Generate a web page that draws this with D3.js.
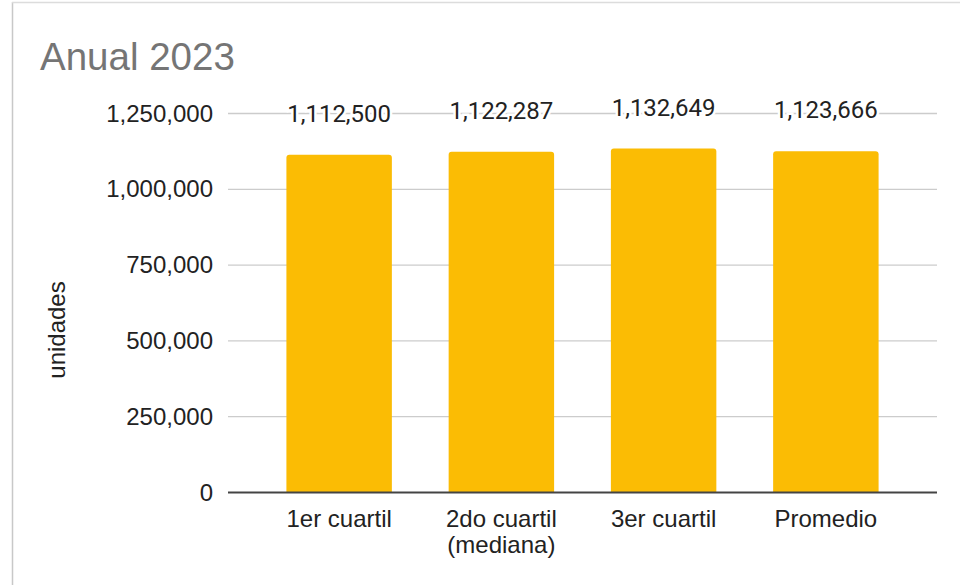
<!DOCTYPE html>
<html><head><meta charset="utf-8">
<script src="https://cdn.jsdelivr.net/npm/d3@7"></script>
<style>body{margin:0;background:#fff;}svg{display:block;}</style>
</head><body>
<svg id="c" width="960" height="585"></svg>
<script>
const categories = [["1er cuartil"], ["2do cuartil", "(mediana)"], ["3er cuartil"], ["Promedio"]];
const values = [1112500, 1122287, 1132649, 1123666];
const valueLabels = ["1,112,500", "1,122,287", "1,132,649", "1,123,666"];
const yTicks = [0, 250000, 500000, 750000, 1000000, 1250000];

const svg = d3.select("#c");
// frame
svg.append("line").attr("x1",12.5).attr("x2",12.5).attr("y1",2).attr("y2",585).attr("stroke","#c8c8c8").attr("stroke-width",1.5);
svg.append("line").attr("x1",12).attr("x2",960).attr("y1",2.5).attr("y2",2.5).attr("stroke","#dcdcdc").attr("stroke-width",1.5);

const x0 = 228, x1 = 937, yBase = 492, yTop = 113;
const x = d3.scaleBand().domain(d3.range(values.length)).range([x0, x1]).paddingInner(0.35).paddingOuter(0.36);
const y = d3.scaleLinear().domain([0, 1250000]).range([yBase, yTop]);

// title
svg.append("text").attr("x",40).attr("y",70).text("Anual 2023")
  .attr("font-family","Liberation Sans, Arial, sans-serif").attr("font-size",38.5).attr("fill","#757575");

// gridlines
svg.append("g").selectAll("line").data(yTicks.filter(d=>d>0)).join("line")
  .attr("x1",x0).attr("x2",x1).attr("y1",d=>y(d)+0.5).attr("y2",d=>y(d)+0.5)
  .attr("stroke","#cccccc").attr("stroke-width",1.3);

// y tick labels
const fmt = d3.format(",");
svg.append("g").selectAll("text").data(yTicks).join("text")
  .attr("x",213).attr("y",d=>y(d)).attr("dy","0.36em").attr("text-anchor","end")
  .attr("font-family","Liberation Sans, Arial, sans-serif").attr("font-size",24).attr("fill","#222")
  .text(d=>fmt(d));

// y axis title
svg.append("text").attr("transform","translate(65,330) rotate(-90)").attr("text-anchor","middle")
  .attr("font-family","Liberation Sans, Arial, sans-serif").attr("font-size",24).attr("fill","#222")
  .text("unidades");

// bars
svg.append("g").selectAll("path").data(values).join("path")
  .attr("d",(d,i)=>{
    const bx = x(i), bw = x.bandwidth(), by = y(d), r = 3;
    return `M${bx},${yBase}V${by+r}Q${bx},${by} ${bx+r},${by}H${bx+bw-r}Q${bx+bw},${by} ${bx+bw},${by+r}V${yBase}Z`;
  })
  .attr("fill","#FBBC04");

// baseline
svg.append("line").attr("x1",x0).attr("x2",x1).attr("y1",yBase+0.5).attr("y2",yBase+0.5)
  .attr("stroke","#444").attr("stroke-width",2);

// value labels
svg.append("g").selectAll("text").data(values).join("text")
  .attr("x",(d,i)=>x(i)+x.bandwidth()/2).attr("y",d=>y(d)-33)
  .attr("text-anchor","middle")
  .attr("font-family","Roboto, sans-serif").attr("font-size",24).attr("fill","#222")
  .attr("stroke","#fff").attr("stroke-width",5).attr("paint-order","stroke")
  .text((d,i)=>valueLabels[i]);

// category labels
const cat = svg.append("g").selectAll("text").data(categories).join("text")
  .attr("x",(d,i)=>x(i)+x.bandwidth()/2).attr("y",527).attr("text-anchor","middle")
  .attr("font-family","Liberation Sans, Arial, sans-serif").attr("font-size",24).attr("fill","#222");
cat.selectAll("tspan").data(d=>d).join("tspan")
  .attr("x",function(){return this.parentNode.getAttribute("x");})
  .attr("dy",(d,j)=>j===0?0:26).text(d=>d);
</script>
</body></html>
